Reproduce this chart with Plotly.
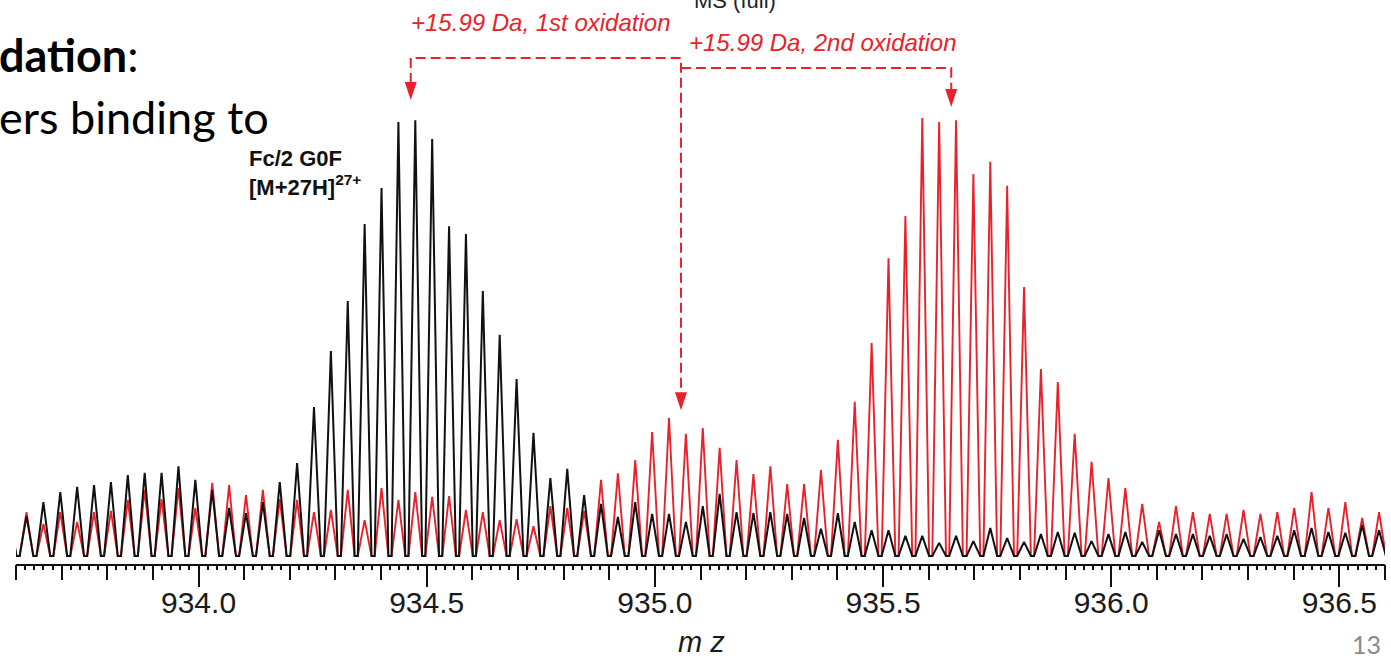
import plotly.graph_objects as go

# Centroid positions (m/z) of the isotope peaks across the window
peak_mz = [
    933.586, 933.623, 933.660, 933.697, 933.734, 933.771, 933.808, 933.845,
    933.882, 933.919, 933.956, 933.993, 934.030, 934.067, 934.104, 934.141,
    934.178, 934.216, 934.253, 934.290, 934.327, 934.364, 934.401, 934.438,
    934.475, 934.512, 934.549, 934.586, 934.623, 934.660, 934.697, 934.734,
    934.771, 934.808, 934.845, 934.882, 934.919, 934.957, 934.994, 935.031,
    935.068, 935.105, 935.142, 935.179, 935.216, 935.253, 935.290, 935.327,
    935.364, 935.401, 935.438, 935.475, 935.512, 935.549, 935.586, 935.623,
    935.660, 935.698, 935.735, 935.772, 935.809, 935.846, 935.883, 935.920,
    935.957, 935.994, 936.031, 936.068, 936.105, 936.142, 936.179, 936.216,
    936.253, 936.290, 936.327, 936.364, 936.401, 936.439, 936.476, 936.513,
    936.550, 936.587,
]

# Relative intensity (%) per peak - control spectrum (black)
control_intensity = [
    10.0, 9.1, 12.3, 14.6, 15.8, 16.2, 16.9, 18.5, 19.0, 19.0, 20.5, 17.4,
    15.1, 11.0, 9.8, 12.3, 16.9, 21.2, 34.0, 46.8, 58.2, 75.8, 84.0, 99.1,
    99.5, 95.2, 75.3, 73.5, 60.5, 50.5, 40.4, 28.1, 17.8, 19.9, 13.9, 11.9,
    8.9, 12.3, 9.6, 9.6, 7.8, 11.4, 14.2, 10.0, 9.8, 10.0, 9.6, 8.7,
    6.2, 9.8, 7.8, 5.9, 5.9, 4.6, 4.6, 3.0, 4.6, 3.4, 6.4, 4.1,
    3.2, 5.0, 5.5, 5.3, 3.4, 5.0, 5.5, 3.2, 5.9, 5.0, 5.0, 4.6,
    5.0, 3.9, 4.3, 4.6, 5.9, 6.4, 5.5, 5.3, 7.1, 5.9,
]

# Relative intensity (%) per peak - oxidised spectrum (red)
oxidized_intensity = [
    7.0, 10.0, 7.3, 10.0, 7.8, 10.0, 10.3, 12.8, 15.1, 13.0, 15.5, 11.0,
    16.7, 16.2, 13.9, 15.1, 13.0, 12.8, 10.0, 10.5, 15.1, 8.2, 15.5, 12.8,
    14.6, 13.5, 13.7, 10.5, 10.0, 8.2, 8.4, 6.8, 11.4, 11.0, 10.3, 17.4,
    18.9, 21.9, 28.3, 31.5, 27.9, 29.2, 24.7, 21.9, 18.7, 20.5, 16.4, 16.4,
    19.6, 26.5, 35.2, 48.6, 68.0, 77.6, 100.0, 99.1, 99.5, 87.2, 90.0, 84.5,
    61.4, 42.7, 39.7, 27.9, 21.5, 17.8, 15.5, 11.9, 7.8, 11.4, 10.0, 9.6,
    9.6, 10.5, 9.6, 10.0, 11.0, 14.6, 11.0, 12.3, 8.7, 10.0,
]

tick_values = [934.0, 934.5, 935.0, 935.5, 936.0, 936.5]
tick_labels = ["934.0", "934.5", "935.0", "935.5", "936.0", "936.5"]

# Most abundant isotope of the unmodified species and the per-oxidation shift
parent_mz = 934.465
oxidation_shift = 15.99 / 27

RED = "#e8222b"
BLACK = "#111111"
HALF_WIDTH = 0.015  # half base width of each profile peak (m/z)


def profile(centres, heights):
    """Profile-mode trace: one sharp peak per centroid on a flat baseline."""
    xs, ys = [], []
    for c, h in zip(centres, heights):
        xs += [c - HALF_WIDTH, c, c + HALF_WIDTH]
        ys += [0.0, h, 0.0]
    return xs, ys


fig = go.Figure()

ox_x, ox_y = profile(peak_mz, oxidized_intensity)
fig.add_trace(go.Scatter(x=ox_x, y=ox_y, mode="lines",
                         line=dict(color=RED, width=1.9),
                         hoverinfo="skip", showlegend=False))

ct_x, ct_y = profile(peak_mz, control_intensity)
fig.add_trace(go.Scatter(x=ct_x, y=ct_y, mode="lines",
                         line=dict(color=BLACK, width=2),
                         hoverinfo="skip", showlegend=False))

# empty trace carrying the labelled / fine-tick overlay axis
fig.add_trace(go.Scatter(x=[None], y=[None], xaxis="x2", showlegend=False,
                         hoverinfo="skip"))

# vertical placement of the oxidation brackets (in intensity units)
y_first = 113.7
y_second = 111.4
tip_parent = 104.1
tip_first = 33.3
tip_second = 102.5
head_len = 17 / 4.38

x0 = parent_mz
x1 = parent_mz + oxidation_shift
x2 = parent_mz + 2 * oxidation_shift

dash = dict(color=RED, width=2, dash="10px,5px")
shapes = [
    dict(type="path", xref="x", yref="y", line=dash,
         path=(f"M {x0},{tip_parent + head_len} L {x0},{y_first} "
               f"L {x1},{y_first} L {x1},{tip_first + head_len}")),
    dict(type="path", xref="x", yref="y", line=dash,
         path=(f"M {x1},{y_second} L {x2},{y_second} "
               f"L {x2},{tip_second + head_len}")),
]
for xa, ya in [(x0, tip_parent), (x1, tip_first), (x2, tip_second)]:
    shapes.append(dict(type="path", xref="x", yref="y",
                       xsizemode="pixel", ysizemode="pixel",
                       xanchor=xa, yanchor=ya,
                       path="M -6,18 L 6,18 L 0,0 Z",
                       fillcolor=RED, line=dict(width=0)))

annotations = [
    dict(x=x0, y=121.9, xref="x", yref="y", xanchor="left", yanchor="middle",
         xshift=-2, showarrow=False,
         text="<i>+15.99 Da, 1st oxidation</i>",
         font=dict(family="Liberation Sans", size=24, color=RED)),
    dict(x=x1, y=117.3, xref="x", yref="y", xanchor="left", yanchor="middle",
         xshift=6, showarrow=False,
         text="<i>+15.99 Da, 2nd oxidation</i>",
         font=dict(family="Liberation Sans", size=24, color=RED)),
    dict(x=934.106, y=94.0, xref="x", yref="y", xanchor="left", yanchor="top",
         showarrow=False, align="left",
         text="<b>Fc/2 G0F</b><br><b>[M+27H]<sup>27+</sup></b>",
         font=dict(family="Liberation Sans", size=22, color="#111111")),
    # axis title
    dict(x=(701 - 16) / 1369, y=(564 - 659) / 564, xref="paper",
         yref="paper", xanchor="center", yanchor="bottom", showarrow=False,
         borderpad=0, text="<i>m z</i>",
         font=dict(family="Liberation Sans", size=29, color="#1a1a1a")),
    # slide text around the figure
    dict(x=-16 / 1369, y=(564 - 55) / 564, xref="paper", yref="paper",
         xanchor="left", yanchor="middle", xshift=-3, showarrow=False,
         text="<b>dation</b>:",
         font=dict(family="Lato", size=45, color="#000000")),
    dict(x=-16 / 1369, y=(564 - 117) / 564, xref="paper", yref="paper",
         xanchor="left", yanchor="middle", xshift=-3, showarrow=False,
         text="ers binding to",
         font=dict(family="Lato", size=45, color="#000000")),
    dict(x=(1383 - 16) / 1369, y=(564 - 644) / 564, xref="paper",
         yref="paper", xanchor="right", yanchor="middle", showarrow=False,
         text="13", font=dict(family="Lato", size=25, color="#8a8a8a")),
    dict(x=(778 - 16) / 1369, y=1.0, xref="paper", yref="paper",
         xanchor="right", yanchor="middle", showarrow=False,
         text="MS (full)",
         font=dict(family="Liberation Sans", size=22, color="#222222")),
]

fig.update_layout(
    width=1391, height=659,
    margin=dict(l=16, r=6, t=0, b=95),
    paper_bgcolor="white", plot_bgcolor="white",
    showlegend=False,
    shapes=shapes,
    annotations=annotations,
    xaxis=dict(
        range=[933.6, 936.6], showgrid=False, zeroline=False,
        showline=True, linecolor="#111111", linewidth=2,
        ticks="outside", tickvals=tick_values, ticklen=21, tickwidth=2,
        tickcolor="#111111", showticklabels=False,
        minor=dict(ticks="outside", dtick=0.1, tick0=933.6, ticklen=14,
                   tickwidth=2, tickcolor="#111111", showgrid=False),
    ),
    xaxis2=dict(
        overlaying="x", matches="x", anchor="y", side="bottom",
        range=[933.6, 936.6], showgrid=False, zeroline=False,
        showline=False, ticks="outside", tickvals=tick_values,
        ticktext=tick_labels, ticklen=12, tickwidth=2, tickcolor="#111111",
        tickfont=dict(family="Liberation Sans", size=30, color="#1a1a1a"),
        minor=dict(ticks="outside", dtick=0.02, tick0=933.6, ticklen=5,
                   tickwidth=1.5, tickcolor="#111111", showgrid=False),
    ),
    yaxis=dict(range=[-1.826, 126.94], visible=False, fixedrange=True),
)

fig.write_html("out.html")
